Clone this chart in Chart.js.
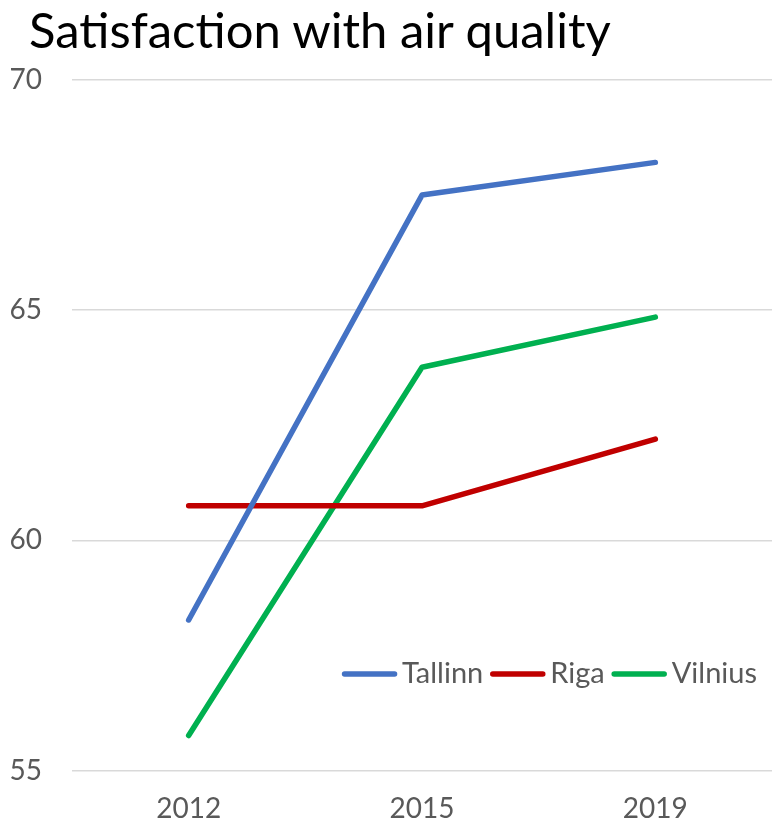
<!DOCTYPE html>
<html>
<head>
<meta charset="utf-8">
<script src="https://cdn.jsdelivr.net/npm/chart.js@4/dist/chart.umd.min.js"></script>
<style>
  html, body { margin: 0; padding: 0; background: #ffffff; }
  #wrap { position: relative; width: 772px; height: 827px; }
  #title { position: absolute; left: 29px; top: 0px; margin: 0; font-family: Lato, "Open Sans", sans-serif; font-weight: normal; font-size: 49px; line-height: 58px; color: #000000; white-space: nowrap; }
  canvas { position: absolute; left: 0; top: 0; }
</style>
</head>
<body>
<div id="wrap">
  <h1 id="title">Satisfaction with air quality</h1>
  <canvas id="c" width="772" height="827"></canvas>
</div>
<script>
const categories = ["2012", "2015", "2019"];
const seriesNames = ["Tallinn", "Riga", "Vilnius"];
const tallinn = [58.27, 67.5, 68.21];
const riga = [60.75, 60.75, 62.2];
const vilnius = [55.76, 63.76, 64.85];
const yTicks = [55, 60, 65, 70];
const colors = ["#4472C4", "#C00000", "#00B050"];

const FONT = 'Lato, "Open Sans", sans-serif';

const legendInside = {
  id: 'legendInside',
  afterDatasetsDraw(chart) {
    const ctx = chart.ctx;
    const ds = chart.data.datasets;
    ctx.save();
    ctx.font = '29px ' + FONT;
    const lineLen = 55, gapText = 5, gapItem = 7;
    let total = 0;
    const widths = ds.map(d => ctx.measureText(d.label).width);
    widths.forEach((w, i) => { total += lineLen + gapText + w + (i < widths.length - 1 ? gapItem : 0); });
    let x = chart.chartArea.right - 15 - total;
    const y = 674;
    ds.forEach((d, i) => {
      ctx.strokeStyle = d.borderColor;
      ctx.lineWidth = 5.5;
      ctx.lineCap = 'round';
      ctx.beginPath();
      ctx.moveTo(x + 2.5, y);
      ctx.lineTo(x + lineLen - 2.5, y);
      ctx.stroke();
      x += lineLen + gapText;
      ctx.fillStyle = '#595959';
      ctx.textBaseline = 'middle';
      ctx.textAlign = 'left';
      ctx.fillText(d.label, x, y);
      x += widths[i] + gapItem;
    });
    ctx.restore();
  }
};

const seriesData = [tallinn, riga, vilnius];
new Chart(document.getElementById('c'), {
  type: 'line',
  data: {
    labels: categories,
    datasets: seriesNames.map((name, i) => ({
      label: name,
      data: seriesData[i],
      borderColor: colors[i],
      backgroundColor: colors[i],
      borderWidth: 5.5,
      borderCapStyle: 'round',
      borderJoinStyle: 'round',
      pointRadius: 0,
      tension: 0,
      fill: false
    }))
  },
  options: {
    responsive: false,
    animation: false,
    layout: { padding: { top: 80, left: 0, right: 0, bottom: 0 } },
    plugins: {
      legend: { display: false },
      title: { display: false },
      tooltip: { enabled: false }
    },
    scales: {
      x: {
        offset: true,
        grid: { display: false, drawTicks: false },
        border: { display: false },
        ticks: { color: '#595959', font: { family: FONT, size: 28 }, padding: 22 },
        afterFit(axis) { axis.height = 56.5; }
      },
      y: {
        min: 55,
        max: 70,
        afterBuildTicks(axis) { axis.ticks = yTicks.map(v => ({ value: v })); },
        grid: { color: '#d9d9d9', lineWidth: 1.5, drawTicks: false },
        border: { display: false },
        ticks: { color: '#595959', font: { family: FONT, size: 28 }, padding: 30 },
        afterFit(axis) { axis.width = 72; }
      }
    }
  },
  plugins: [legendInside]
});
</script>
</body>
</html>
